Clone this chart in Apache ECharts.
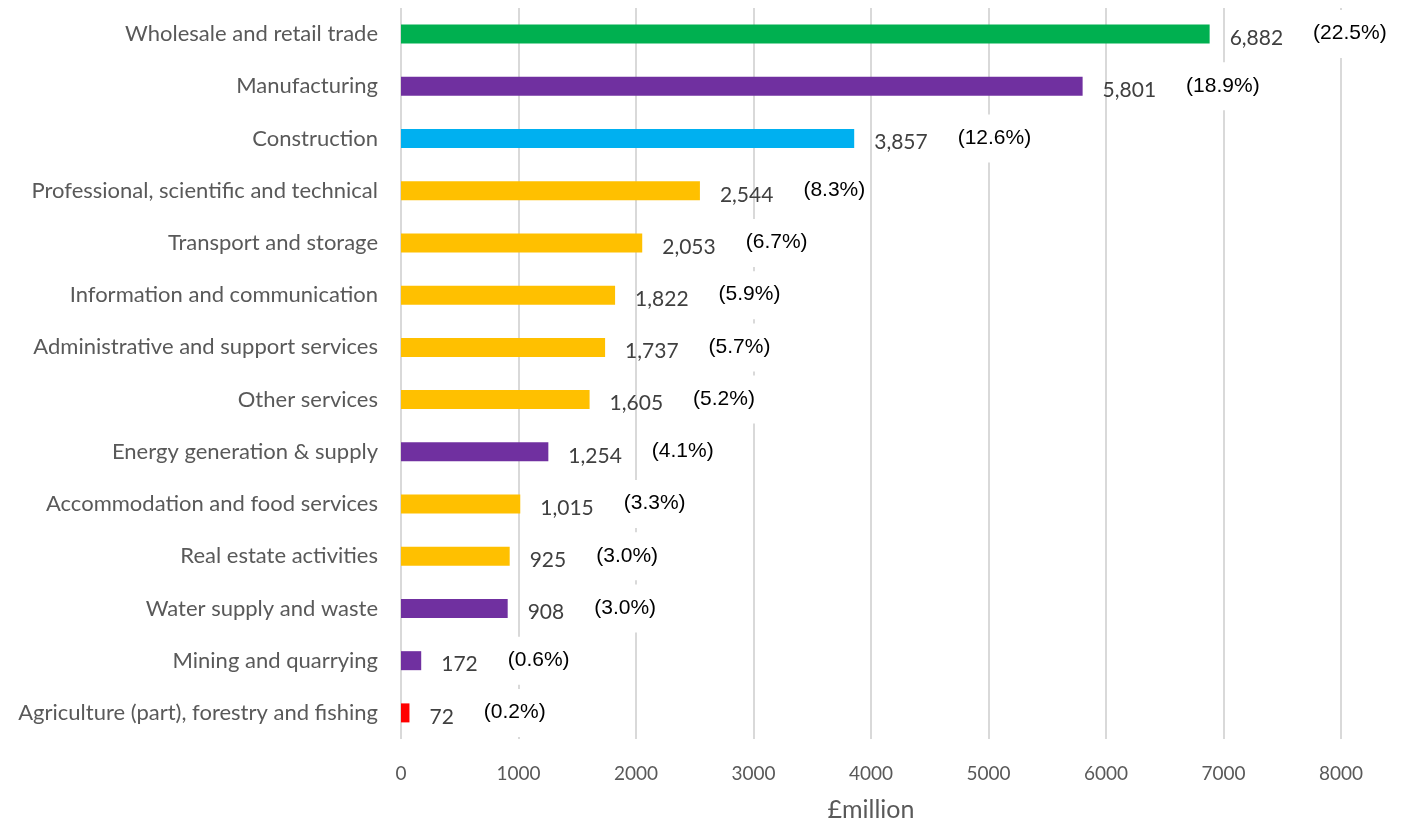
<!DOCTYPE html>
<html>
<head>
<meta charset="utf-8">
<script src="https://cdn.jsdelivr.net/npm/echarts@6/dist/echarts.min.js"></script>
<style>
  html, body { margin: 0; padding: 0; background: #ffffff; }
  #chart { width: 1403px; height: 823px; }
</style>
</head>
<body>
<div id="chart"></div>
<script>
// Industry sectors, top to bottom
const sectors = [
  'Wholesale and retail trade',
  'Manufacturing',
  'Construction',
  'Professional, scientific and technical',
  'Transport and storage',
  'Information and communication',
  'Administrative and support services',
  'Other services',
  'Energy generation & supply',
  'Accommodation and food services',
  'Real estate activities',
  'Water supply and waste',
  'Mining and quarrying',
  'Agriculture (part), forestry and fishing'
];

// Value per sector, £million
const values = [6882, 5801, 3857, 2544, 2053, 1822, 1737, 1605, 1254, 1015, 925, 908, 172, 72];

// Share of the total, per cent
const shares = ['22.5', '18.9', '12.6', '8.3', '6.7', '5.9', '5.7', '5.2', '4.1', '3.3', '3.0', '3.0', '0.6', '0.2'];

// Bar colour per sector
const barColors = ['#00B050', '#7030A0', '#00B0F0', '#FFC000', '#FFC000', '#FFC000', '#FFC000',
                   '#FFC000', '#7030A0', '#FFC000', '#FFC000', '#7030A0', '#7030A0', '#FF0000'];

// x-axis ticks
const xTicks = [0, 1000, 2000, 3000, 4000, 5000, 6000, 7000, 8000];

const chart = echarts.init(document.getElementById('chart'), null, { renderer: 'canvas' });

const fmt = n => n.toLocaleString('en-GB');

chart.setOption({
  animation: false,
  backgroundColor: '#ffffff',
  grid: {
    left: 401, right: 62, top: 8, bottom: 84,
    containLabel: false, outerBoundsMode: 'none'
  },
  xAxis: {
    type: 'value',
    min: xTicks[0],
    max: xTicks[xTicks.length - 1],
    interval: xTicks[1] - xTicks[0],
    axisLine: { show: false },
    axisTick: { show: false },
    splitLine: { show: true, lineStyle: { color: '#d9d9d9', width: 2 } },
    axisLabel: {
      color: '#595959', fontFamily: 'Lato', fontSize: 19, margin: 25,
      formatter: v => String(v)
    },
    name: '£million',
    nameLocation: 'middle',
    nameGap: 58,
    nameTextStyle: { color: '#595959', fontFamily: 'Lato', fontSize: 25 }
  },
  yAxis: {
    type: 'category',
    inverse: true,
    data: sectors,
    axisLine: { show: false },
    axisTick: { show: false },
    axisLabel: {
      color: '#595959', fontFamily: 'Lato', fontSize: 22, margin: 23,
      padding: [3, 0, 0, 0]
    }
  },
  series: [{
    type: 'bar',
    barWidth: 19,
    data: values.map((v, i) => ({ value: v, itemStyle: { color: barColors[i] } })),
    label: {
      show: true,
      position: 'right',
      distance: 20,
      formatter: p => '{v|' + fmt(p.value) + '}{g|}{p|(' + shares[p.dataIndex] + '%)}',
      rich: {
        v: { color: '#404040', fontFamily: 'Lato', fontSize: 21, padding: [8, 0, 0, 0] },
        g: { width: 26 },
        p: {
          color: '#000000', fontFamily: 'Liberation Sans', fontSize: 21,
          backgroundColor: '#ffffff', padding: [13, 4, 14, 4]
        }
      }
    }
  }]
});
</script>
</body>
</html>
